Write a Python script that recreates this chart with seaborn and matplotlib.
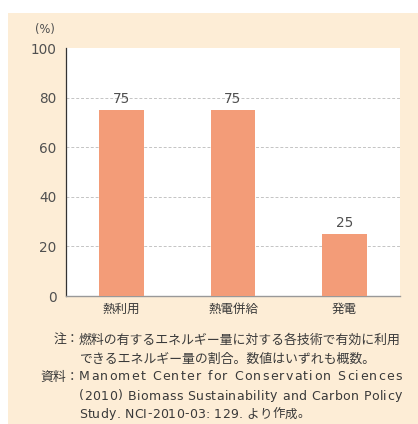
import matplotlib
matplotlib.use("Agg")
import matplotlib.pyplot as plt
import seaborn as sns
import pandas as pd
from matplotlib.patches import Rectangle

categories = ["熱利用", "熱電併給", "発電"]
values = [75, 75, 25]
yticks = [0, 20, 40, 60, 80, 100]

note_label = "注："
note_lines = ["燃料の有するエネルギー量に対する各技術で有効に利用",
              "できるエネルギー量の割合。数値はいずれも概数。"]
src_label = "資料："
src_lines = ["Manomet Center for Conservation Sciences",
             "(2010) Biomass Sustainability and Carbon Policy",
             "Study. NCI-2010-03: 129. より作成。"]

sns.set_style("white")
plt.rcParams['font.family'] = ['Noto Sans CJK JP', 'DejaVu Sans']
LATIN = ['DejaVu Sans', 'Noto Sans CJK JP']
TXT = "#3a3a3a"
NUM = "#505050"

W, H = 418, 424
fig = plt.figure(figsize=(W / 100, H / 100), dpi=100)
fig.patch.set_facecolor("white")
fig.patches.append(Rectangle((8 / W, 0), 1 - 8 / W, (H - 13) / H, transform=fig.transFigure,
                             facecolor="#FDEDD6", edgecolor="none", zorder=-10))

ax = fig.add_axes([66 / W, (H - 296) / H, (400 - 66) / W, (296 - 48) / H])
ax.set_facecolor("white")
df = pd.DataFrame({"cat": categories, "val": values})
sns.barplot(data=df, x="cat", y="val", color="#F39C78", width=0.4, ax=ax,
            saturation=1, edgecolor="none", zorder=3)
ax.set_xlim(-0.5, 2.5)
ax.set_ylim(0, 100)
ax.set_yticks(yticks)
ax.set_yticklabels([str(t) for t in yticks], fontsize=9.8, color=NUM, family=LATIN)
ax.set_xlabel("")
ax.set_ylabel("")
ax.tick_params(axis="x", length=0, pad=5, labelsize=9, labelcolor=TXT)
ax.tick_params(axis="y", length=4, width=0.8, color="#888888", direction="in", pad=7)
for s in ["top", "right"]:
    ax.spines[s].set_visible(False)
ax.spines["left"].set_color("#333333")
ax.spines["left"].set_linewidth(0.9)
ax.spines["bottom"].set_color("#999999")
ax.spines["bottom"].set_linewidth(1.0)
ax.yaxis.grid(True, color="#C4C4C4", linestyle=(0, (3, 2)), linewidth=0.7, zorder=0)
ax.set_axisbelow(True)
gl = ax.get_ygridlines()
gl[0].set_visible(False)
gl[-1].set_visible(False)

for i, v in enumerate(values):
    ax.annotate(str(v), (i, v), xytext=(0, 3), textcoords="offset points",
                ha="center", va="bottom", fontsize=9.8, color=NUM, family=LATIN)

fig.text(35 / W, 1 - 30 / H, "(%)", fontsize=8.3, color=NUM, va="center", ha="left", family=LATIN)

fs = 9.3
def ypos(y):
    return 1 - y / H

x0 = 79 / W
fig.text(x0, ypos(340), note_label, ha="right", va="center", fontsize=fs, color=TXT)
fig.text(x0, ypos(377), src_label, ha="right", va="center", fontsize=fs, color=TXT)

renderer = fig.canvas.get_renderer()

def char_w(ch, size):
    if ch == " ":
        a = fig.text(0, 0, "x x", fontsize=size, family=LATIN)
        b = fig.text(0, 0, "xx", fontsize=size, family=LATIN)
        w = a.get_window_extent(renderer).width - b.get_window_extent(renderer).width
        a.remove(); b.remove()
        return w
    t = fig.text(0, 0, ch, fontsize=size, family=LATIN)
    w = t.get_window_extent(renderer).width
    t.remove()
    return w

def spaced(line, y, size, xend_px):
    widths = [char_w(c, size) for c in line]
    total = sum(widths)
    avail = xend_px - 79
    extra = (avail - total) / (len(line) - 1)
    x = 79.0
    for c, w in zip(line, widths):
        if c != " ":
            fig.text(x / W, ypos(y), c, ha="left", va="center", fontsize=size, color=TXT, family=LATIN)
        x += w + extra

fig.text(x0, ypos(340), note_lines[0], ha="left", va="center", fontsize=fs, color=TXT)
fig.text(x0, ypos(359), note_lines[1], ha="left", va="center", fontsize=fs, color=TXT)
spaced(src_lines[0], 377, 9.0, 402)
spaced(src_lines[1], 396, 9.0, 402)
spaced(src_lines[2], 414, 9.0, 310)

fig.savefig("out.png", dpi=100)
